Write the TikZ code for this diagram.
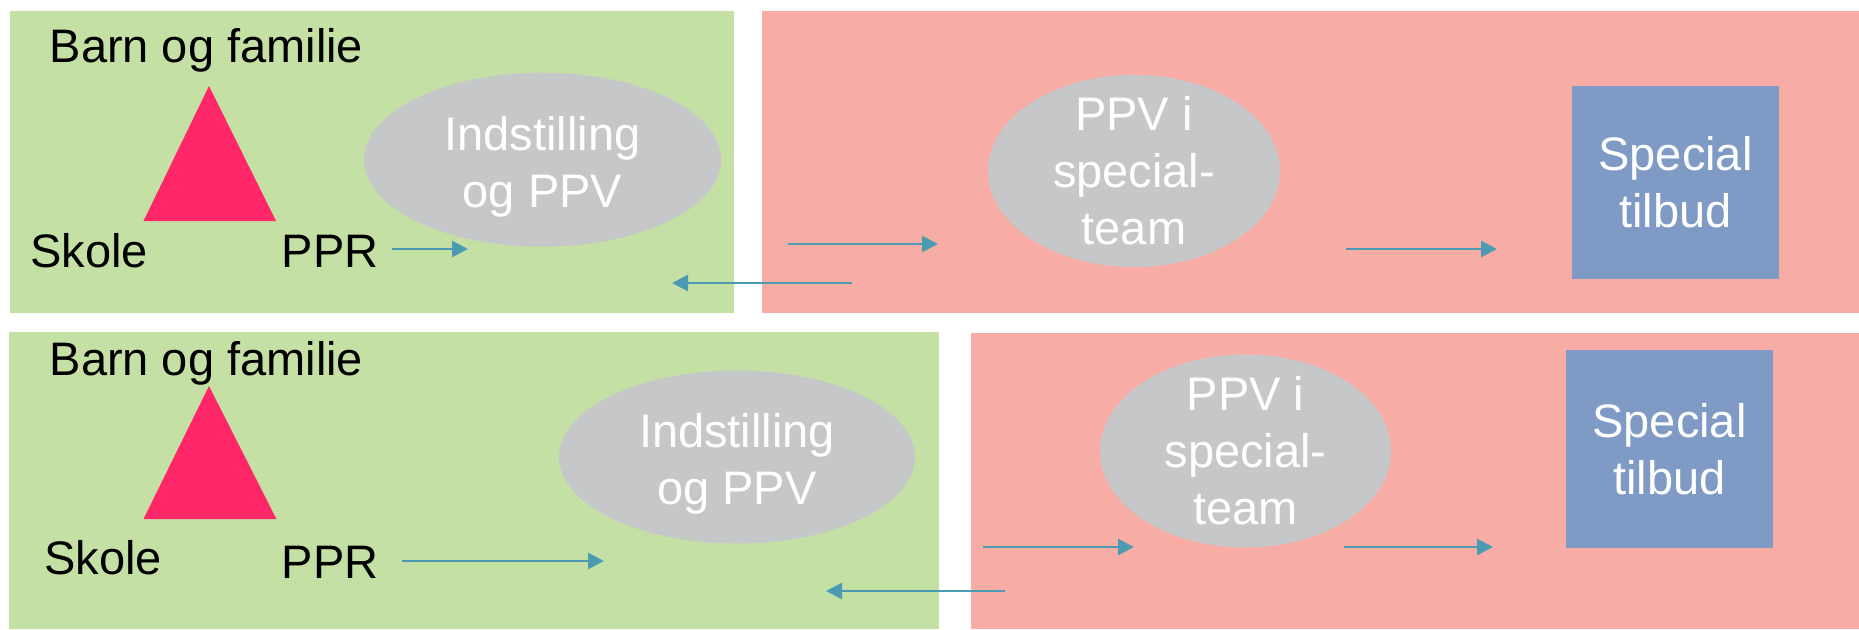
\documentclass[tikz,border=0pt]{standalone}
\usepackage{fontspec}
\setmainfont{Liberation Sans}
\usetikzlibrary{arrows.meta,shapes.geometric}
\definecolor{greenbg}{RGB}{197,224,165}
\definecolor{pinkbg}{RGB}{247,173,166}
\definecolor{grayell}{RGB}{198,199,201}
\definecolor{bluebox}{RGB}{127,155,197}
\definecolor{trired}{RGB}{255,39,104}
\definecolor{arrowc}{RGB}{75,155,178}
\begin{document}
\begin{tikzpicture}[x=1pt,y=-1pt,
  bigfont/.style={font=\fontsize{47}{57}\selectfont},
  lbl/.style={bigfont, inner sep=0pt, anchor=base west, text=black},
  ell/.style={bigfont, ellipse, fill=grayell, inner sep=0pt, text=white, align=center},
  tallell/.style={ell, inner ysep=-10pt},
  tilbox/.style={bigfont, rectangle, fill=bluebox, inner sep=0pt, text=white, align=center},
  arr/.style={draw=arrowc, line width=2.8pt, -{Triangle[length=16pt,width=16pt]}}]
\useasboundingbox (0,0) rectangle (1859,629);
\fill[white] (0,0) rectangle (1859,629);
% panels
\fill[greenbg] (10,11) rectangle (734,313);
\fill[pinkbg] (762,11) rectangle (1859,313);
\fill[greenbg] (9,332) rectangle (939,629);
\fill[pinkbg] (971,333) rectangle (1859,629);
% triangles
\fill[trired] (209,86) -- (276,221) -- (143.5,221) -- cycle;
\fill[trired] (209,386) -- (276.4,519) -- (143.5,519) -- cycle;
% top row
\node[lbl] (bf1) at (49.5,62.7) {Barn og familie};
\node[lbl] (sk1) at (30,267) {Skole};
\node[lbl] (ppr1) at (281.5,267) {PPR};
\node[ell, minimum width=357pt, minimum height=174pt] (ind1) at (542.5,159.7) {\rule{0pt}{48pt}Indstilling\\og PPV};
\node[tallell, minimum width=292pt, minimum height=192pt] (ppv1) at (1134,171) {PPV i\\special-\\team};
\node[tilbox, minimum width=207pt, minimum height=193pt] (sp1) at (1675.5,182.5) {Special\\tilbud};
\coordinate (a1s) at (392,249); \coordinate (a1e) at (468,249);
\coordinate (a2s) at (852,283); \coordinate (a2e) at (672,283);
\coordinate (a3s) at (788,244); \coordinate (a3e) at (938,244);
\coordinate (a4s) at (1346,249); \coordinate (a4e) at (1497,249);
\draw[arr] (a1s) -- (a1e);
\draw[arr] (a2s) -- (a2e);
\draw[arr] (a3s) -- (a3e);
\draw[arr] (a4s) -- (a4e);
% bottom row
\node[lbl] (bf2) at (49.5,375) {Barn og familie};
\node[lbl] (sk2) at (44,574) {Skole};
\node[lbl] (ppr2) at (281.5,578) {PPR};
\node[ell, minimum width=356pt, minimum height=173pt] (ind2) at (737,457) {\rule{0pt}{48pt}Indstilling\\og PPV};
\node[tallell, minimum width=291pt, minimum height=193pt] (ppv2) at (1245.5,451) {PPV i\\special-\\team};
\node[tilbox, minimum width=207pt, minimum height=198pt] (sp2) at (1669.5,449) {Special\\tilbud};
\coordinate (b1s) at (401.5,561); \coordinate (b1e) at (604,561);
\coordinate (b2s) at (1005,591); \coordinate (b2e) at (826,591);
\coordinate (b3s) at (983,547); \coordinate (b3e) at (1134,547);
\coordinate (b4s) at (1344,547); \coordinate (b4e) at (1493,547);
\draw[arr] (b1s) -- (b1e);
\draw[arr] (b2s) -- (b2e);
\draw[arr] (b3s) -- (b3e);
\draw[arr] (b4s) -- (b4e);
\end{tikzpicture}
\end{document}
